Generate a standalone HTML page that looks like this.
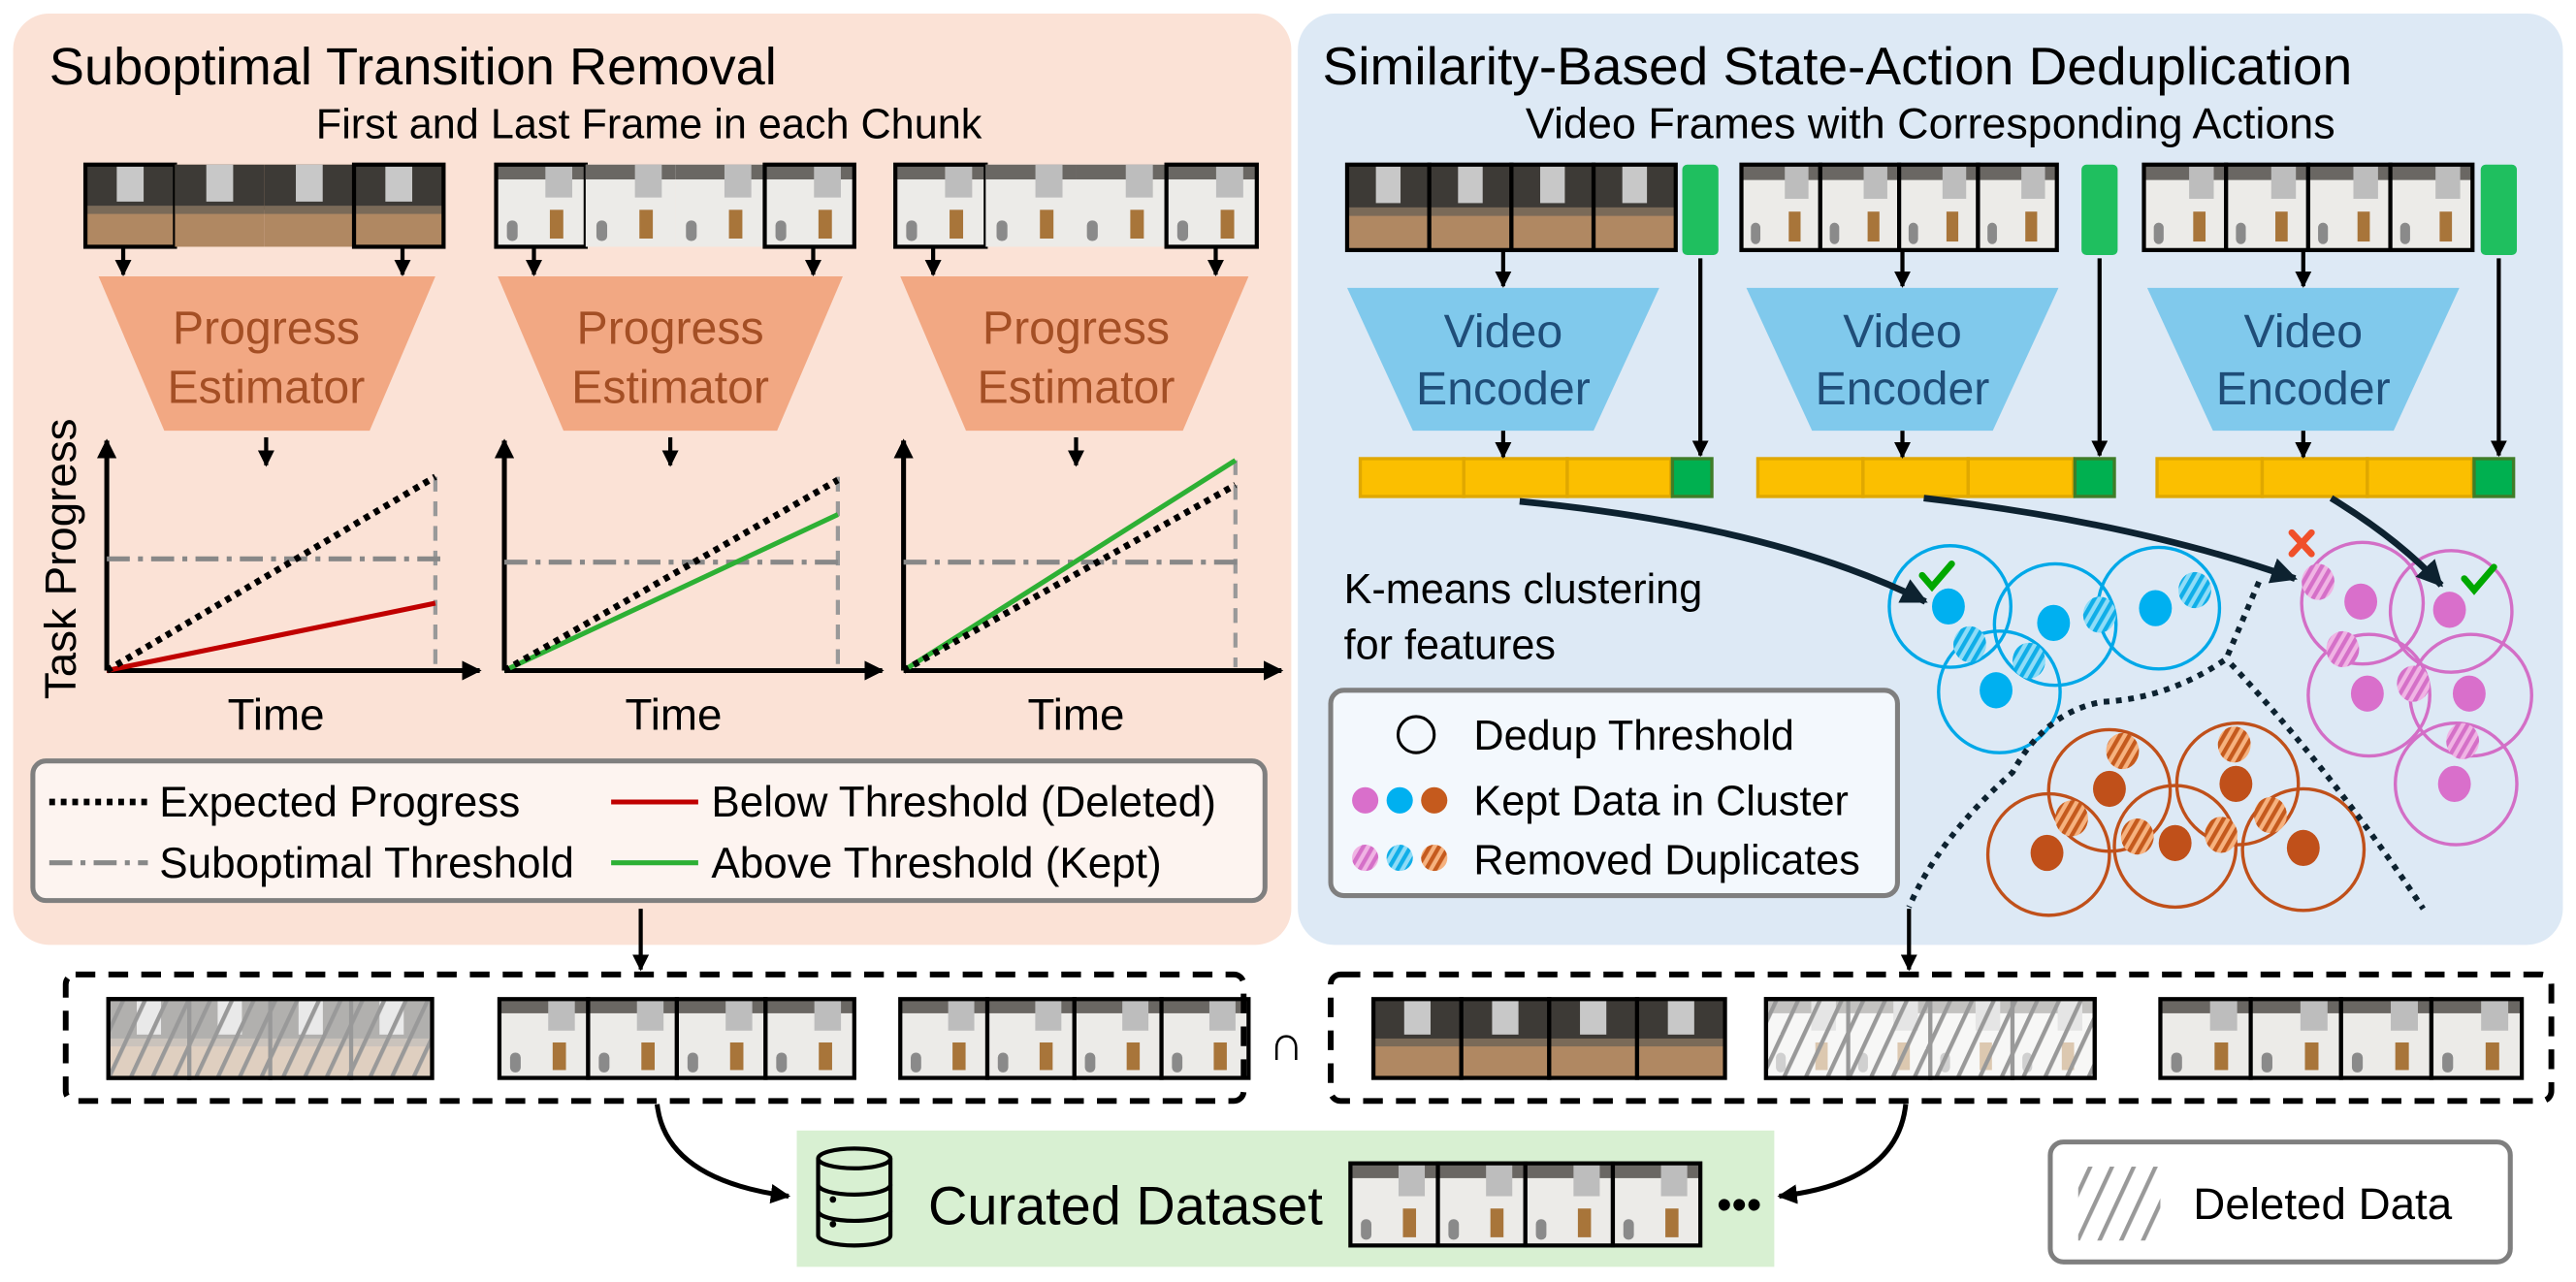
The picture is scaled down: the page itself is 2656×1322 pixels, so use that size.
<!DOCTYPE html>
<html><head><meta charset="utf-8">
<style>
html,body{margin:0;padding:0;background:#fff;}
svg{display:block;font-family:"Liberation Sans",Arial,sans-serif;}
</style></head>
<body>
<svg id="s" width="2656" height="1322" viewBox="0 0 1568 780" xmlns="http://www.w3.org/2000/svg">
<defs>
<pattern id="hb" width="5" height="5" patternUnits="userSpaceOnUse" patternTransform="rotate(30)"><rect width="5" height="5" fill="#8fdcf7"/><rect width="2.5" height="5" fill="#10aee8"/></pattern>
<pattern id="hm" width="5" height="5" patternUnits="userSpaceOnUse" patternTransform="rotate(30)"><rect width="5" height="5" fill="#f0b4e4"/><rect width="2.5" height="5" fill="#d570c8"/></pattern>
<pattern id="ho" width="5" height="5" patternUnits="userSpaceOnUse" patternTransform="rotate(30)"><rect width="5" height="5" fill="#f6b27f"/><rect width="2.5" height="5" fill="#c55a1d"/></pattern>
<pattern id="hg" width="12" height="12" patternUnits="userSpaceOnUse" patternTransform="rotate(25)"><rect width="2.5" height="12" fill="#999"/></pattern>
<marker id="ar" viewBox="0 0 10 10" refX="9" refY="5" markerWidth="4" markerHeight="4" orient="auto-start-reverse"><path d="M0,0 L10,5 L0,10 z" fill="#000"/></marker>
<marker id="ad" viewBox="0 0 10 10" refX="9" refY="5" markerWidth="4" markerHeight="4" orient="auto"><path d="M0,0 L10,5 L0,10 z" fill="#0d2230"/></marker>
</defs>

<!-- panels -->
<rect x="8" y="8" width="778" height="567" rx="22" fill="#fbe2d6"/>
<rect x="790" y="8" width="770" height="567" rx="22" fill="#dde9f5"/>

<text x="30" y="51" font-size="32">Suboptimal Transition Removal</text>
<text x="395" y="84" font-size="25.5" text-anchor="middle">First and Last Frame in each Chunk</text>
<text x="805" y="51" font-size="32.5">Similarity-Based State-Action Deduplication</text>
<text x="1175" y="84" font-size="26.5" text-anchor="middle">Video Frames with Corresponding Actions</text>

<g id="frames"></g>

<!-- progress estimators -->
<g fill="#f2a883">
<polygon points="60,168 265,168 225,262 100,262"/>
<polygon points="303,168 513,168 473,262 343,262"/>
<polygon points="548,168 760,168 720,262 588,262"/>
</g>
<g font-size="28.5" fill="#a44f25" text-anchor="middle">
<text x="162" y="209">Progress</text><text x="162" y="245">Estimator</text>
<text x="408" y="209">Progress</text><text x="408" y="245">Estimator</text>
<text x="655" y="209">Progress</text><text x="655" y="245">Estimator</text>
</g>

<!-- video encoders -->
<g fill="#80c9ec">
<polygon points="820,175 1010,175 970,262 860,262"/>
<polygon points="1063,175 1253,175 1213,262 1103,262"/>
<polygon points="1307,175 1497,175 1457,262 1347,262"/>
</g>
<g font-size="28.5" fill="#1f4d78" text-anchor="middle">
<text x="915" y="211">Video</text><text x="915" y="246">Encoder</text>
<text x="1158" y="211">Video</text><text x="1158" y="246">Encoder</text>
<text x="1402" y="211">Video</text><text x="1402" y="246">Encoder</text>
</g>

<!-- feature bars -->
<g stroke="#e0a800" stroke-width="2" fill="#fbbf00">
<rect x="828" y="279" width="63" height="23"/><rect x="891" y="279" width="63" height="23"/><rect x="954" y="279" width="63" height="23"/>
<rect x="1070" y="279" width="64" height="23"/><rect x="1134" y="279" width="64" height="23"/><rect x="1198" y="279" width="64" height="23"/>
<rect x="1313" y="279" width="64" height="23"/><rect x="1377" y="279" width="64" height="23"/><rect x="1441" y="279" width="64" height="23"/>
</g>
<g fill="#00b050" stroke="#3f7d28" stroke-width="2">
<rect x="1018" y="279" width="24" height="23"/><rect x="1263" y="279" width="24" height="23"/><rect x="1506" y="279" width="24" height="23"/>
</g>
<g fill="#1fbf5f"><rect x="1024" y="100" width="22" height="55" rx="3"/><rect x="1267" y="100" width="22" height="55" rx="3"/><rect x="1510" y="100" width="22" height="55" rx="3"/></g>

<!-- small arrows -->
<g stroke="#000" stroke-width="2.5" marker-end="url(#ar)">
<line x1="75" y1="151" x2="75" y2="167"/><line x1="245" y1="151" x2="245" y2="167"/>
<line x1="325" y1="151" x2="325" y2="167"/><line x1="495" y1="151" x2="495" y2="167"/>
<line x1="568" y1="151" x2="568" y2="167"/><line x1="740" y1="151" x2="740" y2="167"/>
<line x1="162" y1="266" x2="162" y2="283"/><line x1="408" y1="266" x2="408" y2="283"/><line x1="655" y1="266" x2="655" y2="283"/>
<line x1="915" y1="153" x2="915" y2="174"/><line x1="1158" y1="153" x2="1158" y2="174"/><line x1="1402" y1="153" x2="1402" y2="174"/>
<line x1="915" y1="262" x2="915" y2="278"/><line x1="1158" y1="262" x2="1158" y2="278"/><line x1="1402" y1="262" x2="1402" y2="278"/>
<line x1="1035" y1="157" x2="1035" y2="277"/><line x1="1278" y1="157" x2="1278" y2="277"/><line x1="1521" y1="157" x2="1521" y2="277"/>
<line x1="390" y1="553" x2="390" y2="590"/>
<line x1="1162" y1="553" x2="1162" y2="590"/>
</g>

<!-- charts -->
<text transform="translate(46,340) rotate(-90)" font-size="27" text-anchor="middle">Task Progress</text>
<g font-size="27" text-anchor="middle"><text x="168" y="444">Time</text><text x="410" y="444">Time</text><text x="655" y="444">Time</text></g>
<g stroke="#000" stroke-width="3" fill="none" marker-end="url(#ar)">
<line x1="65" y1="408" x2="65" y2="268"/><line x1="65" y1="408" x2="292" y2="408"/>
<line x1="307" y1="408" x2="307" y2="268"/><line x1="307" y1="408" x2="537" y2="408"/>
<line x1="550" y1="408" x2="550" y2="268"/><line x1="550" y1="408" x2="780" y2="408"/>
</g>
<g stroke="#999" stroke-width="2.5" stroke-dasharray="9,6"><line x1="265" y1="290" x2="265" y2="406"/><line x1="510" y1="290" x2="510" y2="406"/><line x1="752" y1="280" x2="752" y2="406"/></g>
<g stroke="#888" stroke-width="3" stroke-dasharray="14,5,3,5">
<line x1="65" y1="340" x2="268" y2="340"/><line x1="307" y1="342" x2="512" y2="342"/><line x1="550" y1="342" x2="755" y2="342"/>
</g>
<line x1="65" y1="408" x2="265" y2="367" stroke="#c00000" stroke-width="3"/>
<line x1="307" y1="408" x2="510" y2="313" stroke="#2db034" stroke-width="3"/>
<line x1="550" y1="408" x2="752" y2="280" stroke="#2db034" stroke-width="3"/>
<g stroke="#000" stroke-width="4" stroke-dasharray="3.5,3.5">
<line x1="65" y1="408" x2="265" y2="290"/><line x1="307" y1="408" x2="510" y2="292"/><line x1="550" y1="408" x2="752" y2="295"/>
</g>

<!-- left legend -->
<rect x="20" y="463" width="750" height="85" rx="8" fill="#fdf4f0" stroke="#7f7f7f" stroke-width="3"/>
<line x1="30" y1="488" x2="90" y2="488" stroke="#000" stroke-width="4" stroke-dasharray="3.5,3.5"/>
<line x1="30" y1="525" x2="90" y2="525" stroke="#888" stroke-width="3" stroke-dasharray="14,5,3,5"/>
<line x1="372" y1="488" x2="425" y2="488" stroke="#c00000" stroke-width="3"/>
<line x1="372" y1="525" x2="425" y2="525" stroke="#2db034" stroke-width="3"/>
<g font-size="26"><text x="97" y="497">Expected Progress</text><text x="97" y="534">Suboptimal Threshold</text>
<text x="433" y="497">Below Threshold (Deleted)</text><text x="433" y="534">Above Threshold (Kept)</text></g>

<!-- right: kmeans -->
<g font-size="25.5"><text x="818" y="367">K-means clustering</text><text x="818" y="401">for features</text></g>

<g id="clusters" stroke-width="2" fill="none"></g>

<g stroke="#0d2230" stroke-width="4" fill="none" marker-end="url(#ad)">
<path d="M925,305 Q1080,320 1172,366"/>
<path d="M1171,303 Q1300,318 1397,352"/>
<path d="M1419,303 Q1460,328 1486,356"/>
</g>
<g stroke="#00a800" stroke-width="4" fill="none" stroke-linecap="round">
<polyline points="1170,350 1176,357 1188,343"/>
<polyline points="1500,352 1506,359 1518,345"/>
</g>
<g stroke="#f0502a" stroke-width="4" stroke-linecap="round"><line x1="1395" y1="324" x2="1407" y2="337"/><line x1="1407" y1="324" x2="1395" y2="337"/></g>
<g stroke="#0d2230" stroke-width="3.5" stroke-dasharray="3.5,4" fill="none">
<path d="M1375,354 L1355,401 Q1320,425 1280,427 Q1245,433 1225,470 Q1180,510 1162,552"/>
<path d="M1358,404 Q1420,470 1475,553"/>
</g>

<!-- right legend -->
<rect x="810" y="420" width="345" height="125" rx="8" fill="#f3f8fd" stroke="#7f7f7f" stroke-width="3"/>
<circle cx="862" cy="447" r="11" fill="none" stroke="#000" stroke-width="1.8"/>
<circle cx="831" cy="487" r="8" fill="#d96fcb"/><circle cx="852" cy="487" r="8" fill="#00b0f0"/><circle cx="873" cy="487" r="8" fill="#c55a1d"/>
<circle cx="831" cy="522" r="8" fill="url(#hm)"/><circle cx="852" cy="522" r="8" fill="url(#hb)"/><circle cx="873" cy="522" r="8" fill="url(#ho)"/>
<g font-size="25.5"><text x="897" y="456">Dedup Threshold</text><text x="897" y="496">Kept Data in Cluster</text><text x="897" y="532">Removed Duplicates</text></g>

<!-- bottom dashed boxes -->
<g fill="none" stroke="#000" stroke-width="3.5" stroke-dasharray="12,8">
<rect x="40" y="593" width="717" height="77" rx="6"/>
<rect x="810" y="593" width="743" height="77" rx="6"/>
</g>
<text x="783" y="645" font-size="30" text-anchor="middle">∩</text>

<!-- curated -->
<rect x="485" y="688" width="595" height="83" fill="#d8f0d2"/>
<g stroke="#000" stroke-width="2.5" fill="none">
<ellipse cx="520" cy="705" rx="22" ry="6"/>
<path d="M498,705 V752 A22,6 0 0 0 542,752 V705"/>
<path d="M498,721 A22,6 0 0 0 542,721"/><path d="M498,737 A22,6 0 0 0 542,737"/>
</g>
<g fill="#000"><circle cx="507" cy="730" r="2"/><circle cx="507" cy="745" r="2"/></g>
<text x="565" y="745" font-size="33">Curated Dataset</text>
<text x="1045" y="742" font-size="26">•••</text>
<g id="frames2"></g>
<g stroke="#000" stroke-width="3" fill="none" marker-end="url(#ar)">
<path d="M400,672 Q405,718 480,728"/>
<path d="M1160,672 Q1155,720 1083,728"/>
</g>

<!-- deleted data legend -->
<rect x="1248" y="695" width="280" height="73" rx="8" fill="#fff" stroke="#7f7f7f" stroke-width="3"/>
<rect x="1265" y="710" width="50" height="45" fill="url(#hg)"/>
<text x="1335" y="742" font-size="27">Deleted Data</text>

<script>
(function(){
var NS="http://www.w3.org/2000/svg";
function el(p,t,a){var e=document.createElementNS(NS,t);for(var k in a)e.setAttribute(k,a[k]);p.appendChild(e);return e;}
var F=document.getElementById("frames");
function frame(P,x,y,w,h,type,opt){
  opt=opt||{};
  var g=el(P,"g",{});
  if(type=="R"){
    el(g,"rect",{x:x,y:y,width:w,height:h,fill:"#b08862"});
    el(g,"rect",{x:x,y:y,width:w,height:h*0.55,fill:"#3d3a36"});
    el(g,"rect",{x:x,y:y+h*0.5,width:w,height:h*0.1,fill:"#7a6a58"});
    el(g,"rect",{x:x+w*0.35,y:y,width:w*0.3,height:h*0.45,fill:"#c8c8c8"});
  } else {
    el(g,"rect",{x:x,y:y,width:w,height:h,fill:"#ecebe8"});
    el(g,"rect",{x:x,y:y,width:w,height:h*0.18,fill:"#6a6763"});
    el(g,"rect",{x:x+w*0.55,y:y,width:w*0.3,height:h*0.4,fill:"#bdbdbd"});
    el(g,"rect",{x:x+w*0.12,y:y+h*0.68,width:w*0.12,height:h*0.25,rx:3,fill:"#8a8a8a"});
    el(g,"rect",{x:x+w*0.6,y:y+h*0.55,width:w*0.15,height:h*0.35,fill:"#a8753a"});
  }
  if(opt.border!==false) el(g,"rect",{x:x,y:y,width:w,height:h,fill:"none",stroke:"#000","stroke-width":2.5});
}
function group(P,x0,x1,y,h,type,opt){
  opt=opt||{};
  var w=(x1-x0)/4;
  for(var i=0;i<4;i++){
    var o={};
    if(opt.ends && (i==1||i==2)){o.border=false;}
    frame(P,x0+i*w,y,w,h,type,o);
  }
  if(opt.hatch){
    el(P,"rect",{x:x0,y:y,width:x1-x0,height:h,fill:"#fff",opacity:0.6});
    el(P,"rect",{x:x0,y:y,width:x1-x0,height:h,fill:"url(#hg)"});
    el(P,"rect",{x:x0,y:y,width:x1-x0,height:h,fill:"none",stroke:"#000","stroke-width":2.5});
  }
}
group(F,52,270,100,50,"R",{ends:1});
group(F,302,520,100,50,"W",{ends:1});
group(F,545,765,100,50,"W",{ends:1});
group(F,820,1020,100,52,"R");
group(F,1060,1252,100,52,"W");
group(F,1305,1505,100,52,"W");
group(F,66,263,608,48,"R",{hatch:1});
group(F,304,520,608,48,"W");
group(F,548,760,608,48,"W");
group(F,836,1050,608,48,"R");
group(F,1075,1275,608,48,"W",{hatch:1});
group(F,1315,1535,608,48,"W");
group(document.getElementById("frames2"),822,1035,708,50,"W");

var C=document.getElementById("clusters");
function circ(list,stroke){list.forEach(function(p){el(C,"circle",{cx:p[0],cy:p[1],r:37,stroke:stroke});});}
function dots(list,fill){list.forEach(function(p){el(C,"ellipse",{cx:p[0],cy:p[1],rx:10,ry:11,fill:fill,stroke:"none"});});}
circ([[1187,369],[1251,380],[1314,370],[1217,421]],"#00a8e8");
dots([[1186,369],[1250,379],[1312,370],[1215,420]],"#00b0f0");
dots([[1199,392],[1235,402],[1278,374],[1336,359]],"url(#hb)");
circ([[1438,367],[1492,372],[1442,423],[1504,423],[1495,477]],"#d36ec6");
dots([[1437,366],[1491,371],[1441,422],[1503,422],[1494,477]],"#d96fcb");
dots([[1411,354],[1426,395],[1469,416],[1499,451]],"url(#hm)");
circ([[1284,481],[1362,477],[1247,520],[1324,515],[1402,517]],"#c0501a");
dots([[1284,480],[1361,477],[1246,519],[1324,513],[1402,516]],"#c0501a");
dots([[1292,457],[1360,453],[1261,498],[1301,509],[1352,508],[1382,496]],"url(#ho)");
})();
</script>
</svg>
</body></html>
